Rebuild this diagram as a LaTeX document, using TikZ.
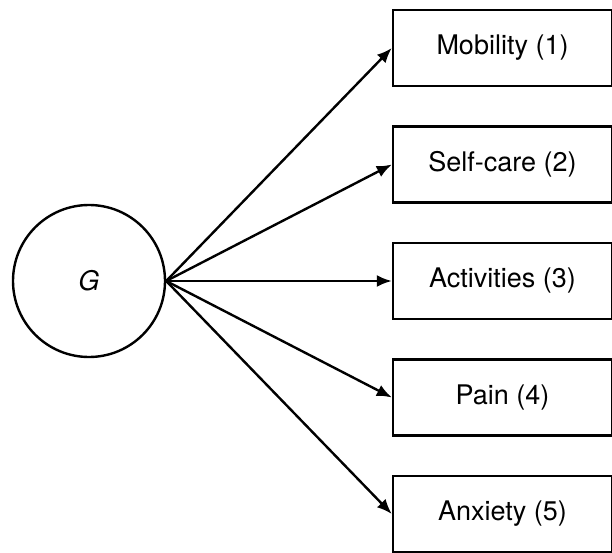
\documentclass[tikz,border=0pt]{standalone}
\usepackage{fontspec}
\setmainfont{TeX Gyre Heros}
\usetikzlibrary{positioning,arrows.meta}

\begin{document}
\begin{tikzpicture}[-{Latex[length=15pt,width=12pt]},node distance=116.5pt,on
      grid,line width=2.4pt,font=\fontsize{27}{31}\selectfont]
			\tikzset{dim/.style={draw,rectangle,minimum width=219pt,minimum height=76pt}}
			\useasboundingbox (0,0) rectangle (612pt,552pt);
			\node[draw,circle,minimum size=152pt] (g) at (89pt,271pt) {\textit{G}};
			\node[dim] (act) [right=413.5pt of g] {Activities (3)};
			\node[dim] (self) [above=of act] {Self-care (2)};
			\node[dim] (mob) [above=of self] {Mobility (1)};
			\node[dim] (pain) [below=of act] {Pain (4)};
			\node[dim] (anx) [below=of pain] {Anxiety (5)};
			\path
        (g.east) edge (mob.west)
        (g.east) edge (self.west)
        (g.east) edge (act.west)
        (g.east) edge (pain.west)
        (g.east) edge (anx.west);
		\end{tikzpicture}
\end{document}
